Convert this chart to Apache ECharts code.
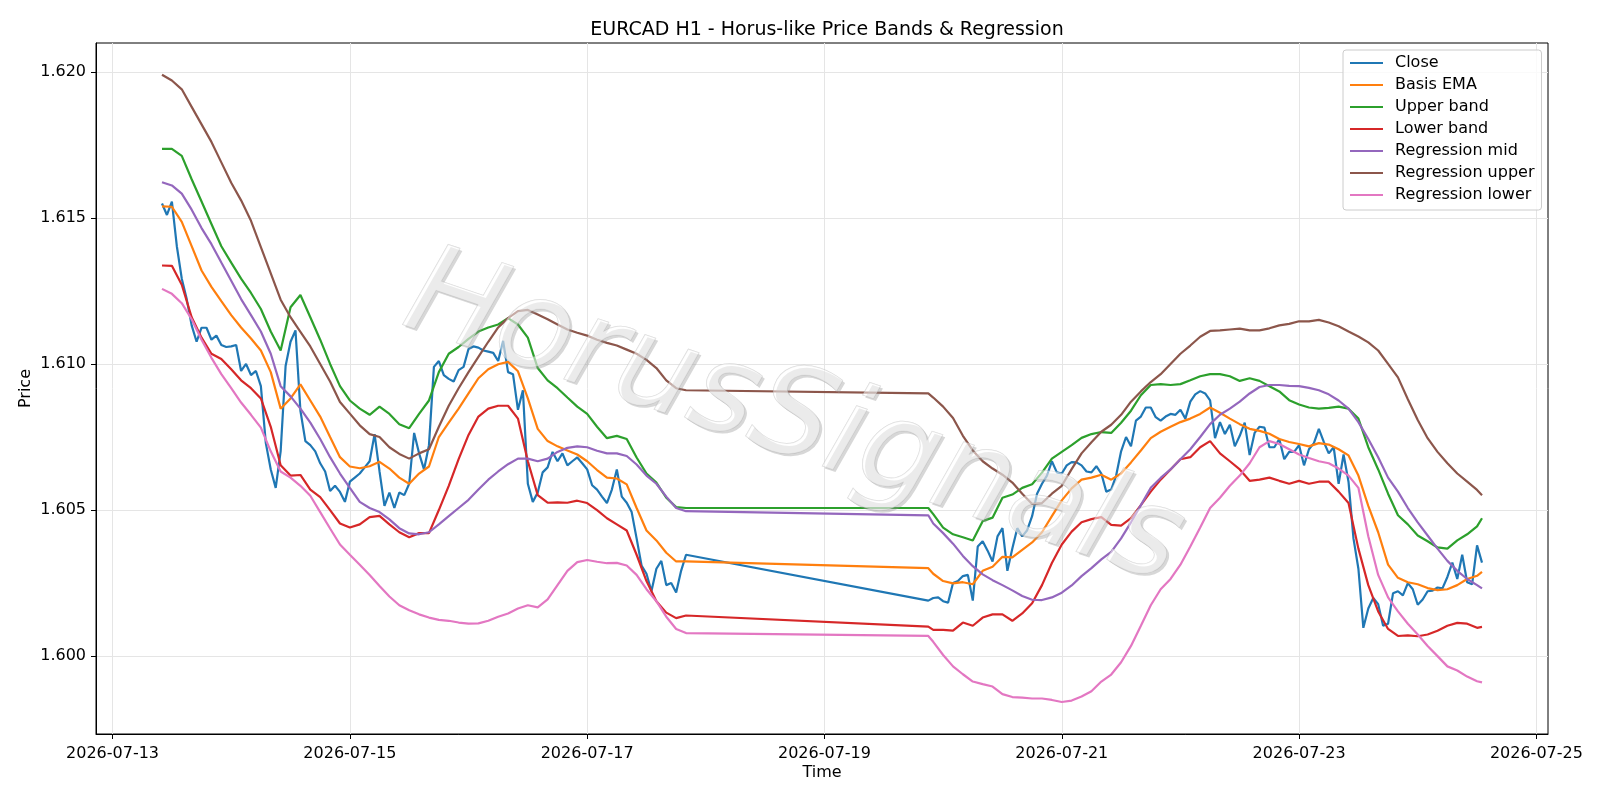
<!DOCTYPE html>
<html>
<head>
<meta charset="utf-8">
<title>EURCAD H1 - Horus-like Price Bands & Regression</title>
<script src="https://cdn.jsdelivr.net/npm/echarts@6/dist/echarts.min.js"></script>
<style>
html, body { margin: 0; padding: 0; background: #fff; }
#chart { width: 1600px; height: 800px; }
</style>
</head>
<body>
<div id="chart"></div>
<script>
// all times are hours counted from 2026-07-13 00:00 (hourly bars, weekend gap Fri 20:00 -> Sun 21:00)
var closeStartHours = [10, 165];
var closeWeek1 = [
  1.61549,1.6151,1.61556,1.61403,1.61292,1.61222,1.61132,1.61076,1.61124,1.61124,
  1.61083,1.61097,1.61065,1.61058,1.6106,1.61065,1.60976,1.61,1.60962,1.60976,
  1.60924,1.60729,1.60639,1.60576,1.60701,1.60993,1.61076,1.61115,1.6084,1.60736,
  1.60722,1.60701,1.6066,1.60632,1.60565,1.60583,1.60562,1.60528,1.60597,1.60611,
  1.60625,1.60646,1.60667,1.6076,1.60632,1.60514,1.6056,1.60507,1.6056,1.60551,
  1.6059,1.60764,1.60694,1.60639,1.60722,1.6099,1.6101,1.60962,1.60949,1.6094,
  1.60979,1.6099,1.61051,1.6106,1.61056,1.61046,1.61042,1.61038,1.6101,1.61079,
  1.60972,1.60965,1.60843,1.6091,1.6059,1.60528,1.6056,1.60629,1.60646,1.60699,
  1.60667,1.60694,1.60653,1.60667,1.6068,1.6066,1.60639,1.60585,1.6057,1.60546,
  1.60524,1.6057,1.60639,1.60546,1.60525,1.60493,1.60403,1.6031,1.60282,1.60222,
  1.60299,1.60326,1.60243,1.6025,1.60218,1.60292,1.60347
];
var closeWeek2 = [
  1.6019,1.60199,1.60201,1.60188,1.60183,1.6025,1.60257,1.60274,1.60278,1.6019,
  1.60375,1.60393,1.60361,1.60324,1.6041,1.60438,1.60292,1.60368,1.60438,1.6041,
  1.60431,1.60479,1.60556,1.6059,1.60618,1.60667,1.60629,1.60625,1.60653,1.60664,
  1.60663,1.60653,1.60632,1.60629,1.6065,1.60625,1.60563,1.6057,1.60618,1.60701,
  1.6075,1.60718,1.60806,1.6082,1.60851,1.60851,1.60818,1.60806,1.6082,1.60829,
  1.60826,1.60843,1.60813,1.60871,1.60896,1.60907,1.60899,1.60875,1.60746,1.60801,
  1.6076,1.60792,1.60718,1.60754,1.60799,1.60688,1.60764,1.60785,1.60782,1.60715,
  1.60715,1.60743,1.60674,1.60699,1.60699,1.60722,1.60653,1.60708,1.60729,1.60778,
  1.60733,1.60694,1.60715,1.6059,1.6069,1.60597,1.60403,1.60299,1.60097,1.60163,
  1.60199,1.60178,1.60104,1.60111,1.60215,1.60222,1.60208,1.6025,1.60229,1.60176,
  1.60194,1.60222,1.60224,1.60235,1.60232,1.60271,1.6032,1.60264,1.60347,1.60253,
  1.60246,1.60379,1.6032
];

// the smooth lines are read every 2 hours
var bandHours = [];
for (var h = 10; h <= 116; h += 2) bandHours.push(h);
bandHours.push(165);
for (var h = 166; h <= 276; h += 2) bandHours.push(h);
bandHours.push(277);

var basisEma = [
  1.61539,1.61538,1.61486,1.61403,1.6132,1.61264,1.61215,1.61167,1.61125,1.61087,
  1.61046,1.60972,1.60847,1.60882,1.6093,1.60875,1.6082,1.6075,1.60681,1.60649,
  1.60643,1.6065,1.60665,1.60642,1.60611,1.6059,1.60625,1.60649,1.6075,1.60799,
  1.60847,1.60899,1.60951,1.60982,1.60999,1.61007,1.60975,1.60882,1.60778,1.60736,
  1.60718,1.60704,1.6069,1.60667,1.60637,1.60611,1.60608,1.60588,1.60507,1.6043,
  1.60396,1.60354,1.60324,1.60324,
  1.60301,1.60282,1.60257,1.60249,1.60253,1.60246,1.60292,1.60306,1.6034,1.60338,1.60364,1.60389,1.60424,1.60479,1.60533,1.60574,
  1.60604,1.60611,1.60621,1.60604,1.60625,1.60663,1.60704,1.60746,1.60768,1.60785,
  1.60801,1.60813,1.60829,1.60851,1.60833,1.60813,1.60794,1.60778,1.60771,1.60761,
  1.60743,1.60733,
  1.60726,1.60718,1.60729,1.60724,1.60708,1.60687,1.60618,1.60514,1.60424,1.60313,
  1.60268,1.60253,1.60246,1.60233,1.60226,1.60229,1.60243,1.60264,1.60275,1.60288
];
var upperBand = [
  1.61736,1.61736,1.61712,1.61632,1.61556,1.61479,1.61403,1.61347,1.61292,1.61243,
  1.61188,1.61111,1.61046,1.61194,1.61236,1.6116,1.61083,1.61,1.60924,1.60875,
  1.60847,1.60826,1.60854,1.60829,1.60794,1.6078,1.60829,1.60875,1.60972,1.61035,
  1.61058,1.61086,1.61111,1.61125,1.61135,1.61157,1.61135,1.6109,1.60986,1.60944,
  1.60917,1.60885,1.60854,1.60829,1.60785,1.60746,1.60754,1.60743,1.6068,1.60625,
  1.60594,1.60542,1.6051,1.60507,
  1.60507,1.60486,1.6044,1.60417,1.60407,1.60396,1.60462,1.60474,1.60542,1.60553,1.60576,1.60588,1.60628,1.60676,1.60699,1.60722,
  1.60747,1.6076,1.60767,1.60764,1.60799,1.6084,1.60893,1.60928,1.60931,1.60928,
  1.60931,1.60944,1.60958,1.60965,1.60965,1.60958,1.60942,1.60951,1.60942,1.60924,
  1.60906,1.60876,
  1.60861,1.60851,1.60847,1.6085,1.60854,1.60847,1.60813,1.60715,1.60639,1.60556,
  1.60482,1.60451,1.60413,1.60393,1.60372,1.60368,1.60396,1.60417,1.60444,1.60472
];
var lowerBand = [
  1.61337,1.61336,1.61271,1.6116,1.6109,1.61035,1.61017,1.60982,1.60944,1.60917,
  1.60882,1.60785,1.60653,1.60618,1.6062,1.6057,1.60544,1.605,1.60454,1.6044,
  1.60451,1.60476,1.6048,1.60451,1.60424,1.60407,1.60421,1.60421,1.605,1.60583,
  1.60674,1.60757,1.6082,1.60847,1.60857,1.60857,1.60813,1.60667,1.60551,1.60525,
  1.60526,1.60525,1.60532,1.60524,1.605,1.60472,1.60451,1.6043,1.60347,1.60257,
  1.60188,1.60149,1.6013,1.60139,
  1.60101,1.6009,1.6009,1.60087,1.60115,1.60104,1.60132,1.60143,1.60143,1.60121,1.60146,1.60181,1.60243,1.60319,1.60382,1.60426,
  1.60458,1.60469,1.60476,1.60449,1.60447,1.60472,1.60517,1.60563,1.60604,1.60639,
  1.60674,1.60681,1.60715,1.60736,1.60694,1.60667,1.60639,1.606,1.60604,1.60611,
  1.606,1.6059,
  1.606,1.6059,1.60597,1.60597,1.60563,1.60524,1.60368,1.60243,1.60153,1.60093,
  1.60069,1.60071,1.60068,1.60074,1.60087,1.60104,1.60114,1.60111,1.60097,1.601
];
var regMid = [
  1.61622,1.61611,1.61583,1.61528,1.61465,1.6141,1.61347,1.61285,1.61222,1.61167,
  1.61111,1.61035,1.60924,1.60889,1.60847,1.60799,1.60743,1.60681,1.60625,1.60576,
  1.60528,1.60507,1.60493,1.60468,1.60438,1.6042,1.60417,1.60424,1.60451,1.60479,
  1.60507,1.60535,1.6057,1.60604,1.60632,1.60657,1.60676,1.60676,1.60667,1.60676,
  1.60699,1.60713,1.60718,1.60715,1.60703,1.60694,1.60694,1.60685,1.60656,1.60618,
  1.6059,1.60546,1.60507,1.60496,
  1.60482,1.60454,1.60421,1.60385,1.60343,1.60308,1.6028,1.6026,1.60243,1.60225,1.60206,1.60193,1.60192,1.60201,1.60217,1.60242,
  1.60274,1.60301,1.60331,1.60357,1.60403,1.60458,1.60517,1.60576,1.6061,1.60639,
  1.60674,1.60708,1.6075,1.60794,1.60826,1.60847,1.60871,1.60899,1.60921,1.60928,
  1.60928,1.60925,
  1.60924,1.60918,1.6091,1.60896,1.60875,1.60847,1.60801,1.60743,1.60681,1.60611,
  1.60563,1.60507,1.60458,1.60413,1.60368,1.60326,1.60292,1.60264,1.60243,1.60232
];
var regUpper = [
  1.6199,1.6197,1.6194,1.6188,1.6182,1.6176,1.6169,1.6162,1.6156,1.6149,
  1.6140,1.6131,1.6122,1.6116,1.6111,1.6106,1.6100,1.6094,1.6087,1.6083,
  1.6079,1.6076,1.6075,1.60715,1.60692,1.60676,1.60694,1.60708,1.60785,1.60857,
  1.60917,1.60972,1.61024,1.61076,1.61125,1.61157,1.61181,1.61185,1.61169,1.61153,
  1.61135,1.61118,1.61107,1.61097,1.61083,1.61072,1.61063,1.61049,1.61035,1.61014,
  1.60986,1.60944,1.60917,1.6091,
  1.60899,1.60885,1.60854,1.60815,1.60754,1.60704,1.60667,1.60642,1.60621,1.60594,1.60556,1.60521,1.60524,1.60556,1.60583,1.6064,
  1.60694,1.60732,1.60768,1.60792,1.60826,1.60871,1.60906,1.60938,1.60965,1.61,
  1.61035,1.61063,1.61093,1.61113,1.61115,1.61118,1.61121,1.61115,1.61115,1.61122,
  1.61132,1.61137,
  1.61146,1.61146,1.61151,1.61142,1.61129,1.61111,1.61094,1.61074,1.61046,1.61,
  1.60954,1.60879,1.60808,1.60746,1.60699,1.6066,1.60625,1.60597,1.60569,1.60551
];
var regLower = [
  1.61257,1.6124,1.61208,1.61153,1.61083,1.61021,1.60965,1.60917,1.60868,1.60826,
  1.60782,1.60701,1.60632,1.60611,1.60583,1.60549,1.60493,1.60437,1.60382,1.60347,
  1.60313,1.60278,1.6024,1.60204,1.60174,1.60157,1.60143,1.60132,1.60124,1.60121,
  1.60115,1.60111,1.60112,1.60121,1.60135,1.60146,1.60163,1.60174,1.60167,1.60194,
  1.60243,1.60292,1.60322,1.60329,1.60323,1.60318,1.60319,1.6031,1.60278,1.60229,
  1.60188,1.60135,1.60093,1.60079,
  1.60069,1.60049,1.60004,1.59965,1.59938,1.59913,1.59904,1.59896,1.5987,1.5986,1.59858,1.59855,1.59855,1.5985,1.59843,1.59848,
  1.59862,1.5988,1.59913,1.59937,1.59979,1.60035,1.60104,1.60174,1.60229,1.60264,
  1.60313,1.60375,1.6044,1.60507,1.60542,1.60583,1.60618,1.6066,1.60715,1.60736,
  1.60726,1.60708,
  1.6069,1.60678,1.60667,1.6066,1.60642,1.60618,1.60576,1.6041,1.60278,1.60201,
  1.60153,1.60111,1.60074,1.60035,1.6,1.59965,1.59951,1.5993,1.59914,1.5991
];

var xTicks = [0, 48, 96, 144, 192, 240, 288];   // 07-13 ... 07-25, every 2 days
var yTicks = [1.600, 1.605, 1.610, 1.615, 1.620];

var closeData = [];
[closeWeek1, closeWeek2].forEach(function (arr, s) {
  arr.forEach(function (v, i) { closeData.push([closeStartHours[s] + i, v]); });
});
function band(vals) {
  return bandHours.map(function (h, i) { return [h, vals[i]]; });
}

function hourLabel(h) {
  var d = new Date(2026, 6, 13 + Math.round(h / 24));
  var mm = String(d.getMonth() + 1).padStart(2, '0');
  var dd = String(d.getDate()).padStart(2, '0');
  return d.getFullYear() + '-' + mm + '-' + dd;
}

var font = 'DejaVu Sans';
var colors = ['#1f77b4', '#ff7f0e', '#2ca02c', '#d62728', '#9467bd', '#8c564b', '#e377c2'];
var names = ['Close', 'Basis EMA', 'Upper band', 'Lower band', 'Regression mid', 'Regression upper', 'Regression lower'];
var seriesData = [closeData, band(basisEma), band(upperBand), band(lowerBand), band(regMid), band(regUpper), band(regLower)];

var myChart = echarts.init(document.getElementById('chart'), null, { renderer: 'canvas' });

// watermark: grey copy offset as a shadow, translucent white copy on top
var wmX = 793, wmY = 422, wmRot = -18.6 * Math.PI / 180;
var wmFont = 'italic 124px "DejaVu Sans"';

myChart.setOption({
  animation: false,
  backgroundColor: '#fff',
  textStyle: { fontFamily: font },
  title: {
    text: 'EURCAD H1 - Horus-like Price Bands & Regression',
    left: 822, top: 16, textAlign: 'center',
    textStyle: { fontFamily: font, fontSize: 19, fontWeight: 'normal', color: '#000' }
  },
  grid: {
    left: 96, right: 52, top: 43, bottom: 66,
    show: true, borderColor: '#000', borderWidth: 1, backgroundColor: 'transparent'
  },
  legend: {
    orient: 'vertical', left: 1343, top: 50,
    padding: [5, 7, 7, 7], itemGap: 6,
    icon: 'rect', itemWidth: 33, itemHeight: 2,
    backgroundColor: 'rgba(255,255,255,0.8)', borderColor: '#cccccc', borderWidth: 1, borderRadius: 3,
    textStyle: { fontFamily: font, fontSize: 16, color: '#000', lineHeight: 16, padding: [0, 0, 0, 7] },
    data: names
  },
  xAxis: {
    type: 'value', min: -3.35, max: 290.35,
    name: 'Time', nameLocation: 'middle', nameGap: 31, nameMoveOverlap: false,
    nameTextStyle: { fontFamily: font, fontSize: 16, color: '#000' },
    axisLine: { show: true, onZero: false, lineStyle: { color: '#000', width: 1 } },
    axisTick: { show: true, length: 5, lineStyle: { color: '#000' }, customValues: xTicks },
    axisLabel: { fontFamily: font, fontSize: 16, color: '#000', margin: 12, customValues: xTicks, formatter: hourLabel },
    splitLine: { show: true, lineStyle: { color: '#e5e5e5', width: 1 } }
  },
  yAxis: {
    type: 'value', min: 1.597335, max: 1.620985,
    name: 'Price', nameLocation: 'middle', nameGap: 62, nameRotate: 90, nameMoveOverlap: false,
    nameTextStyle: { fontFamily: font, fontSize: 16, color: '#000' },
    axisLine: { show: true, onZero: false, lineStyle: { color: '#000', width: 1 } },
    axisTick: { show: true, length: 5, lineStyle: { color: '#000' }, customValues: yTicks },
    axisLabel: { fontFamily: font, fontSize: 16, color: '#000', margin: 10, customValues: yTicks,
      formatter: function (v) { return v.toFixed(3); } },
    splitLine: { show: true, lineStyle: { color: '#e5e5e5', width: 1 } }
  },
  graphic: [{
    type: 'text', x: wmX + 2.5, y: wmY + 2.5, rotation: wmRot, z: 50, silent: true,
    style: {
      text: 'HorusSignals', font: wmFont, fill: 'rgba(150,150,150,0.38)',
      align: 'center', verticalAlign: 'middle', textAlign: 'center', textVerticalAlign: 'middle'
    }
  }, {
    type: 'text', x: wmX, y: wmY, rotation: wmRot, z: 51, silent: true,
    style: {
      text: 'HorusSignals', font: wmFont, fill: 'rgba(255,255,255,0.5)',
      stroke: 'rgba(170,170,170,0.45)', lineWidth: 1,
      align: 'center', verticalAlign: 'middle', textAlign: 'center', textVerticalAlign: 'middle'
    }
  }],
  series: names.map(function (n, i) {
    return {
      name: n, type: 'line', data: seriesData[i],
      showSymbol: false, symbol: 'none', z: 3 + i,
      lineStyle: { color: colors[i], width: 2.2 },
      itemStyle: { color: colors[i] }
    };
  })
});
</script>
</body>
</html>
